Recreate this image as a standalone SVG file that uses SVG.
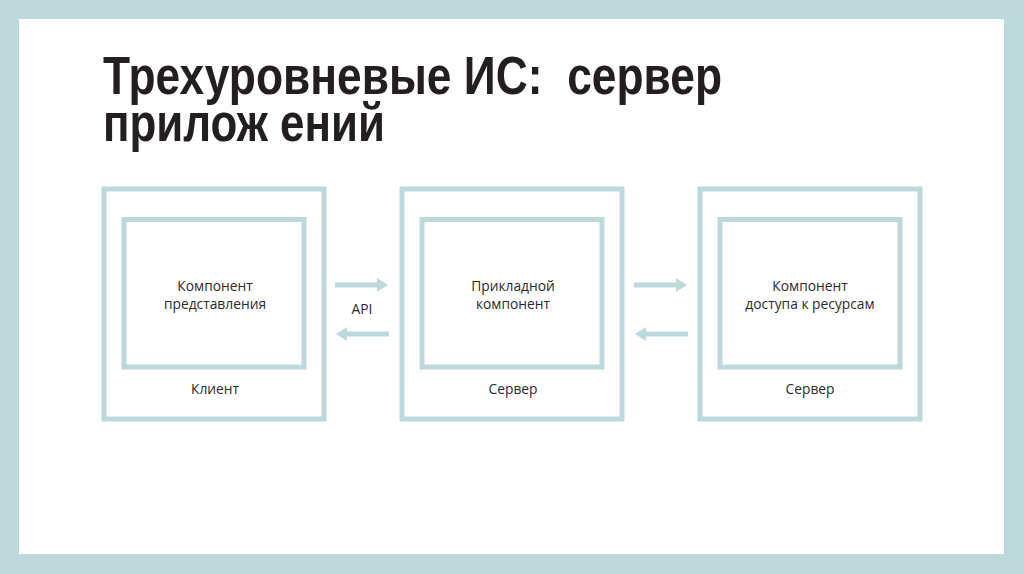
<svg xmlns="http://www.w3.org/2000/svg" width="1024" height="574" viewBox="0 0 1024 574">
<style>
.frame{fill:none;stroke:#BDD9DC;stroke-width:5}
.lbl{font-family:"Open Sans","Noto Sans",sans-serif;font-size:13.8px;fill:#2b2b2b;text-anchor:middle}
.title{font-family:"Liberation Sans",Arial,sans-serif;font-weight:bold;font-size:54px;fill:#231f20}
.conn line{stroke:#BDD9DC;stroke-width:5}
</style>
<defs>
<marker id="ah" markerWidth="12" markerHeight="14" refX="1" refY="7" orient="auto" markerUnits="userSpaceOnUse">
<path d="M0,0 L11,7 L0,14 Z" fill="#BDD9DC"/>
</marker>
</defs>
<rect x="0" y="0" width="1024" height="574" fill="#BDD9DC"/>
<rect x="19" y="19" width="985" height="535" fill="#ffffff"/>
<g id="title">
<text class="title" x="103" y="94" textLength="619" lengthAdjust="spacingAndGlyphs" xml:space="preserve">Трехуровневые ИС:  сервер</text>
<text class="title" x="103" y="141" textLength="282" lengthAdjust="spacingAndGlyphs">прилож ений</text>
</g>
<g id="client">
<rect class="frame" x="104" y="189" width="220" height="230"/>
<rect class="frame" x="124" y="219.5" width="180" height="147.5"/>
<text class="lbl" x="215" y="291">Компонент</text>
<text class="lbl" x="215" y="309">представления</text>
<text class="lbl" x="215" y="394">Клиент</text>
</g>
<g id="appserver">
<rect class="frame" x="402" y="189" width="220" height="230"/>
<rect class="frame" x="422" y="219.5" width="180" height="147.5"/>
<text class="lbl" x="513" y="291">Прикладной</text>
<text class="lbl" x="513" y="309">компонент</text>
<text class="lbl" x="513" y="394">Сервер</text>
</g>
<g id="resserver">
<rect class="frame" x="700" y="189" width="220" height="230"/>
<rect class="frame" x="720" y="219.5" width="180" height="147.5"/>
<text class="lbl" x="810" y="291">Компонент</text>
<text class="lbl" x="810" y="309">доступа к ресурсам</text>
<text class="lbl" x="810" y="394">Сервер</text>
</g>
<g id="connectors" class="conn">
<line x1="335" y1="285" x2="378" y2="285" marker-end="url(#ah)"/>
<line x1="389" y1="334" x2="346" y2="334" marker-end="url(#ah)"/>
<text class="lbl" x="362" y="314">API</text>
<line x1="634" y1="285" x2="677" y2="285" marker-end="url(#ah)"/>
<line x1="688" y1="334" x2="645" y2="334" marker-end="url(#ah)"/>
</g>
</svg>
